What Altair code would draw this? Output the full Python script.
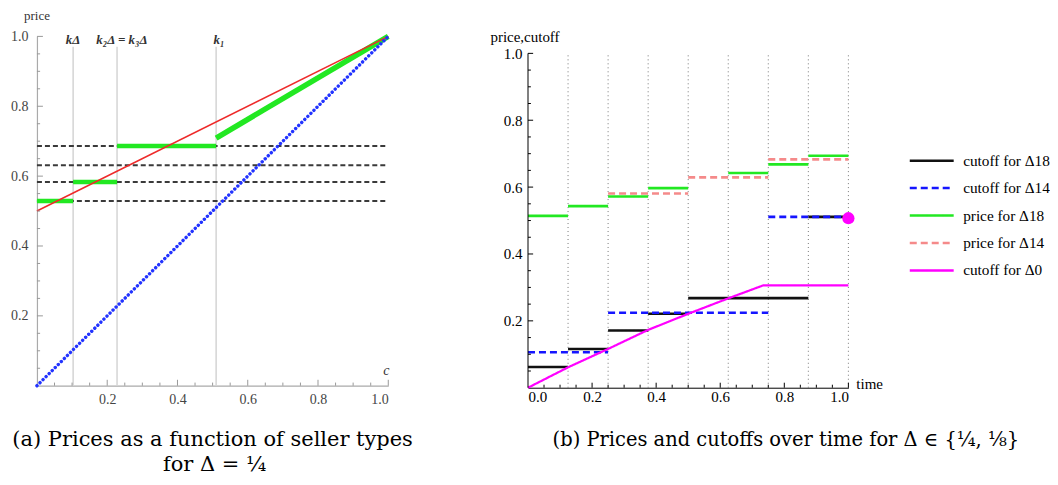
import altair as alt
import pandas as pd

# ---------------- panel (a): prices as a function of seller types ----------------
a_c = [0.0, 1.0]
a_red = [0.5, 1.0]
a_blue = [0.0, 1.0]
a_levels = [0.529, 0.583, 0.631, 0.686]
a_k_x = [0.103, 0.228, 0.51]
a_k_text = ["kΔ", "k₂Δ = k₃Δ", "k₁"]
a_k_text_x = [0.103, 0.242, 0.518]
a_green_c0 = [0.0, 0.103, 0.228]
a_green_c1 = [0.103, 0.228, 0.51]
a_green_p = [0.529, 0.583, 0.686]
a_tail_c = [0.51, 1.0]
a_tail_p = [0.709, 1.0]
a_major = [0.2, 0.4, 0.6, 0.8, 1.0]
a_minor = [0.05, 0.1, 0.15, 0.25, 0.3, 0.35, 0.45, 0.5, 0.55, 0.65, 0.7, 0.75, 0.85, 0.9, 0.95]

# ---------------- panel (b): prices and cutoffs over time ----------------
b_grid = [0.125, 0.25, 0.375, 0.5, 0.625, 0.75, 0.875, 1.0]
series_names = ["cutoff for Δ18", "cutoff for Δ14", "price for Δ18", "price for Δ14", "cutoff for Δ0"]
seg_series = (["cutoff for Δ18"] * 6 + ["cutoff for Δ14"] * 3
              + ["price for Δ18"] * 7 + ["price for Δ14"] * 3)
seg_t0 = [0, .125, .25, .375, .5, .875,
          0, .25, .75,
          0, .125, .25, .375, .625, .75, .875,
          .25, .5, .75]
seg_t1 = [.125, .25, .375, .5, .875, 1,
          .25, .75, 1,
          .125, .25, .375, .5, .75, .875, 1,
          .5, .75, 1]
seg_v = [.062, .116, .171, .221, .268, .511,
         .106, .224, .511,
         .514, .543, .572, .597, .642, .668, .694,
         .581, .629, .683]
cut0_t = [0, 0.125, 0.25, 0.375, 0.5, 0.627, 0.734, 1.0]
cut0_v = [0, 0.061, 0.116, 0.173, 0.221, 0.268, 0.306, 0.306]
dot_t = [1.0]
dot_v = [0.507]
b_xticks = [0.0, 0.2, 0.4, 0.6, 0.8, 1.0]
b_yticks = [0.2, 0.4, 0.6, 0.8, 1.0]
b_minor = a_minor

series_colors = ["#111111", "#1515ff", "#22e822", "#f58a8a", "#ff00ff"]
series_dash = [[1, 0], [7, 4], [1, 0], [7, 4], [1, 0]]

SERIF = "Liberation Serif"
CAPFONT = "DejaVu Serif"

# ---------------- layout numbers ----------------
AW, AH = 352, 350
BW, BH = 321, 352
B_TOP = BH / 335.0   # so that 1.0 sits 17px below the panel top

# ================= panel (a) =================
ax_sx = alt.Scale(domain=[0, 1], nice=False, zero=False)
ax_sy = alt.Scale(domain=[0, 1], nice=False, zero=False)
ax_xaxis = alt.Axis(values=a_major, format=".1f", ticks=False, grid=False, title=None,
                    labelFont=SERIF, labelFontSize=14, labelColor="#444",
                    domainColor="#aaaaaa", domainWidth=1.2, labelPadding=7)
ax_yaxis = alt.Axis(values=a_major, format=".1f", ticks=False, grid=False, title=None,
                    labelFont=SERIF, labelFontSize=14, labelColor="#444",
                    domainColor="#aaaaaa", domainWidth=1.2, labelPadding=9)


def AX(f):
    return alt.X(f, type="quantitative", scale=ax_sx, axis=ax_xaxis, title=None)


def AY(f):
    return alt.Y(f, type="quantitative", scale=ax_sy, axis=ax_yaxis, title=None)


df_k = pd.DataFrame({"x": a_k_x, "y0": [0] * 3, "y1": [0.97] * 3})
df_klab = pd.DataFrame({"x": a_k_text_x, "y": [0.989] * 3, "t": a_k_text})
df_lev = pd.DataFrame({"y": a_levels, "x0": [0] * 4, "x1": [1] * 4})
df_red = pd.DataFrame({"c": a_c, "p": a_red})
df_blue = pd.DataFrame({"c": a_c, "p": a_blue})
df_gseg = pd.DataFrame({"c0": a_green_c0, "c1": a_green_c1, "p": a_green_p})
df_gtail = pd.DataFrame({"c": a_tail_c, "p": a_tail_p})

a_ticks_x = pd.DataFrame({"pos": a_major + a_minor, "b": 0.0,
                          "e": [0.017] * len(a_major) + [0.009] * len(a_minor)})
a_ticks_y = pd.DataFrame({"pos": a_major + a_minor, "b": 0.0,
                          "e": [0.017] * len(a_major) + [0.009] * len(a_minor)})

vlines = alt.Chart(df_k).mark_rule(color="#d4d4d4", strokeWidth=1.5).encode(
    x=AX("x"), y=AY("y0"), y2="y1")
hlines = alt.Chart(df_lev).mark_rule(color="#3a3a3a", strokeWidth=2, strokeDash=[5, 3]).encode(
    y=AY("y"), x=AX("x0"), x2="x1")
gseg = alt.Chart(df_gseg).mark_rule(color="#22e822", strokeWidth=4.5).encode(
    x=AX("c0"), x2="c1", y=AY("p"))
gtail = alt.Chart(df_gtail).mark_line(color="#22e822", strokeWidth=5.5).encode(
    x=AX("c"), y=AY("p"))
red = alt.Chart(df_red).mark_line(color="#ee2a2a", strokeWidth=1.6).encode(
    x=AX("c"), y=AY("p"))
blue = alt.Chart(df_blue).mark_line(color="#2233ff", strokeWidth=3.4, strokeDash=[0.1, 4.2],
                                    strokeCap="round").encode(x=AX("c"), y=AY("p"))
klab = alt.Chart(df_klab).mark_text(font=SERIF, fontSize=13, fontStyle="italic",
                                    fontWeight="bold", color="#333").encode(
    x=AX("x"), y=AY("y"), text="t:N")
tx = alt.Chart(a_ticks_x).mark_rule(color="#999999", strokeWidth=1).encode(
    x=AX("pos"), y=AY("b"), y2="e")
ty = alt.Chart(a_ticks_y).mark_rule(color="#999999", strokeWidth=1).encode(
    y=AY("pos"), x=AX("b"), x2="e")
df_alab = pd.DataFrame({"x": [0.0], "y": [1.0], "t": ["price"]})
alab = alt.Chart(df_alab).mark_text(font=SERIF, fontSize=13, color="#333", dy=-20).encode(
    x=AX("x"), y=AY("y"), text="t:N")
df_clab = pd.DataFrame({"x": [1.0], "y": [0.0], "t": ["c"]})
clab = alt.Chart(df_clab).mark_text(font=SERIF, fontSize=14, fontStyle="italic",
                                    color="#333", dy=-15, dx=-2).encode(
    x=AX("x"), y=AY("y"), text="t:N")
df_capa = pd.DataFrame({"x": [0.5, 0.5], "y": [0.0, 0.0],
                        "t": ["(a)  Prices as a function of seller types", "for Δ = ¼"]})
capa1 = alt.Chart(df_capa.iloc[[0]]).mark_text(font=CAPFONT, fontSize=21, color="black", dy=54).encode(
    x=AX("x"), y=AY("y"), text="t:N")
capa2 = alt.Chart(df_capa.iloc[[1]]).mark_text(font=CAPFONT, fontSize=21, color="black", dy=79, dx=2).encode(
    x=AX("x"), y=AY("y"), text="t:N")

left = alt.layer(vlines, hlines, gseg, gtail, red, blue, klab, tx, ty, alab, clab, capa1, capa2
                 ).properties(width=AW, height=AH)

# ================= panel (b) =================
b_sx = alt.Scale(domain=[0, 1], nice=False, zero=False)
b_sy = alt.Scale(domain=[0, B_TOP], nice=False, zero=False)
b_xaxis = alt.Axis(values=b_xticks, format=".1f", ticks=False, grid=False, title=None,
                   labelFont=SERIF, labelFontSize=15, labelColor="black",
                   domainColor="black", domainWidth=1, labelPadding=2)
b_yaxis = alt.Axis(values=b_yticks, format=".1f", ticks=False, grid=False, title=None,
                   domain=False, labelFont=SERIF, labelFontSize=15, labelColor="black",
                   labelPadding=6)


def BX(f):
    return alt.X(f, type="quantitative", scale=b_sx, axis=b_xaxis, title=None)


def BY(f):
    return alt.Y(f, type="quantitative", scale=b_sy, axis=b_yaxis, title=None)


legend = alt.Legend(title=None, orient="none", legendX=884, legendY=112,
                    symbolType="M-2,0L2,0", symbolSize=484, symbolStrokeWidth=2.5,
                    labelFont=SERIF, labelFontSize=15.3, labelColor="black",
                    labelOffset=19, rowPadding=6.5, labelLimit=400)
col_enc = alt.Color("series:N", scale=alt.Scale(domain=series_names, range=series_colors),
                    legend=legend)
dash_enc = alt.StrokeDash("series:N", scale=alt.Scale(domain=series_names, range=series_dash),
                          legend=legend)

df_grid = pd.DataFrame({"t": b_grid, "y0": 0.0, "y1": 1.0})
df_seg = pd.DataFrame({"series": seg_series, "t0": seg_t0, "t1": seg_t1, "v": seg_v})
df_cut0 = pd.DataFrame({"series": ["cutoff for Δ0"] * len(cut0_t), "t": cut0_t, "v": cut0_v})
df_dot = pd.DataFrame({"t": dot_t, "v": dot_v})
df_baxis = pd.DataFrame({"x": [0.0], "y0": [0.0], "y1": [1.0]})
b_ticks_x = pd.DataFrame({"pos": b_xticks[1:] + b_minor, "b": 0.0,
                          "e": [0.015] * 5 + [0.009] * len(b_minor)})
b_ticks_y = pd.DataFrame({"pos": b_yticks + b_minor, "b": 0.0,
                          "e": [0.016] * 5 + [0.009] * len(b_minor)})

grid = alt.Chart(df_grid).mark_rule(color="#777", strokeWidth=1, strokeDash=[1, 3]).encode(
    x=BX("t"), y=BY("y0"), y2="y1")
segs = alt.Chart(df_seg).mark_rule(strokeWidth=2.6).encode(
    x=BX("t0"), x2="t1", y=BY("v"), color=col_enc, strokeDash=dash_enc)
cut0 = alt.Chart(df_cut0).mark_line(strokeWidth=2.2).encode(
    x=BX("t"), y=BY("v"), color=col_enc, strokeDash=dash_enc)
dot = alt.Chart(df_dot).mark_circle(color="#ff00ff", opacity=1, size=150).encode(
    x=BX("t"), y=BY("v"))
baxis = alt.Chart(df_baxis).mark_rule(color="black", strokeWidth=1).encode(
    x=BX("x"), y=BY("y0"), y2="y1")
btx = alt.Chart(b_ticks_x).mark_rule(color="black", strokeWidth=1).encode(
    x=BX("pos"), y=BY("b"), y2="e")
bty = alt.Chart(b_ticks_y).mark_rule(color="black", strokeWidth=1).encode(
    y=BY("pos"), x=BX("b"), x2="e")
df_blab = pd.DataFrame({"x": [0.0], "y": [1.0], "t": ["price,cutoff"]})
blab = alt.Chart(df_blab).mark_text(font=SERIF, fontSize=15, color="black", align="center",
                                    dy=-16, dx=-3).encode(x=BX("x"), y=BY("y"), text="t:N")
df_tlab = pd.DataFrame({"x": [1.0], "y": [0.0], "t": ["time"]})
tlab = alt.Chart(df_tlab).mark_text(font=SERIF, fontSize=15, color="black", align="left",
                                    dy=-4, dx=8).encode(x=BX("x"), y=BY("y"), text="t:N")
df_capb = pd.DataFrame({"x": [0.805], "y": [0.0],
                        "t": ["(b)  Prices and cutoffs over time for Δ ∈ {¼, ⅛}"]})
capb = alt.Chart(df_capb).mark_text(font=CAPFONT, fontSize=19.5, color="black", dy=52).encode(
    x=BX("x"), y=BY("y"), text="t:N")

right = alt.layer(grid, segs, cut0, dot, baxis, btx, bty, blab, tlab, capb
                  ).properties(width=BW, height=BH)

chart = alt.hconcat(left, right, spacing=140, bounds="flush").properties(
    padding={"left": 0, "top": 2, "right": 0, "bottom": 0}
).configure_view(stroke=None)

chart.save("out.html", embed_options={"renderer": "svg", "actions": False})
